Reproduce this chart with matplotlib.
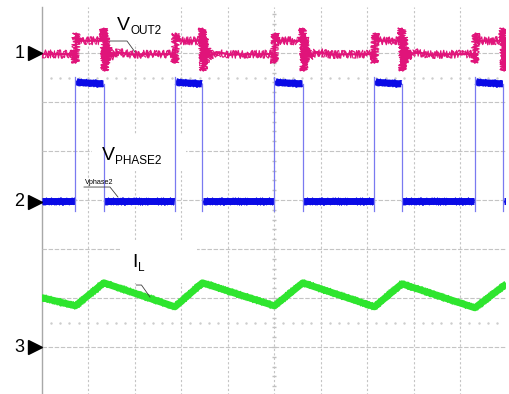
import numpy as np
import matplotlib
matplotlib.use("Agg")
import matplotlib.pyplot as plt
from matplotlib.patches import Rectangle

plt.rcParams["font.family"] = ["Liberation Sans", "DejaVu Sans"]

# scope screen: 10 divisions across, vertical in divisions (0 = centre line)
RISE_T = [0.73, 2.87, 5.01, 7.16, 9.32]     # phase node rising edges
FALL_T = [1.34, 3.46, 5.62, 7.75, 9.93]     # phase node falling edges

# channel 2 : V_PHASE2
PHASE_LOW = -0.03
PHASE_HIGH_START = 2.42
PHASE_HIGH_END = 2.37
PHASE_SPIKE = -0.22

VOUT_BASE = 2.98
VOUT_HIGH = 3.25
VOUT_RISE_DT = [-0.01, 0.0, 0.015, 0.04]
VOUT_RISE_Y = [2.98, 2.80, 3.40, 3.25]
VOUT_FALL_DT = [-0.02, 0.0, 0.02, 0.04, 0.06, 0.09, 0.13, 0.30, 0.60]
VOUT_FALL_Y = [3.25, 3.50, 2.64, 3.32, 2.80, 3.12, 2.92, 3.02, 2.97]

# channel 3 : I_L corner points
IL_T = [0.0, 0.73, 1.34, 2.87, 3.46, 5.01, 5.62, 7.16, 7.75, 9.32, 10.0]
IL_Y = [-1.99, -2.16, -1.69, -2.18, -1.69, -2.16, -1.69, -2.18, -1.71, -2.20, -1.71]

CH_NAMES = ["1", "2", "3"]
CH_LEVELS = [3.0, -0.04, -3.0]

MAGENTA = "#e0147a"
BLUE = "#0a0ae6"
BLUE_EDGE = "#7a7af0"
GREEN = "#2ee52e"
GRID = "#c4c4c4"


def noisy(ax, x, y, color, lw, jitter, z):
    """band plus jagged overlays so it reads like a scope trace"""
    if lw:
        ax.plot(x, y, color=color, lw=lw, solid_capstyle="butt", zorder=z)
    for length, w in [(1.2, 0.9), (2.5, 0.7)]:
        ln, = ax.plot(x, y, color=color, lw=w, zorder=z)
        ln.set_sketch_params(jitter, length, 4)


fig = plt.figure(figsize=(5.10, 3.94), dpi=100, facecolor="white")
ax = fig.add_axes([41.5 / 510, 0, 465 / 510, 389 / 394])
ax.set_xlim(0, 10)
ax.set_ylim(-3.959, 3.98)
ax.axis("off")

# ── graticule ───────────────────────────────────────────────────────
for gx in range(1, 10):
    ax.plot([gx, gx], [-4, 3.94], color=GRID, lw=0.8, ls=(0, (2, 2)), zorder=1)
ax.plot([10, 10], [-4, 3.94], color="#d0d0d0", lw=1.0, zorder=1)
ax.plot([0, 0], [-4, 3.94], color="#a8a8a8", lw=1.0, zorder=1, clip_on=False)
for gy in [-3, -2, -1, 0, 1, 2, 3]:
    ax.plot([0, 10], [gy, gy], color=GRID, lw=0.8, ls=(0, (4, 1.5)), zorder=1)
minor = np.arange(0.2, 10, 0.2)
for gy in [2.5, -2.5]:
    ax.plot(minor, np.full_like(minor, gy), ls="none", marker="s", ms=0.7,
            color="#cccccc", zorder=1)
ticks_y = np.arange(-3.8, 4.0, 0.2)
ax.plot(np.full_like(ticks_y, 5.0), ticks_y, ls="none", marker="_", ms=3,
        color="#c0c0c0", zorder=1)

# white label backgrounds (they hide the graticule, not the traces)
for x0, y0, x1, y1 in [(95, 44, 172, 0), (92, 170, 186, 135), (120, 283, 197, 240)]:
    ax.add_patch(Rectangle(((x0 - 41.5) / 46.5, (200 - y0) / 49),
                           (x1 - x0) / 46.5, (y0 - y1) / 49,
                           facecolor="white", edgecolor="none", zorder=2))

# ── channel 2 : phase node ──────────────────────────────────────────
low_start = [0.0] + FALL_T
low_end = RISE_T + [10.0]
for s, e in zip(low_start, low_end):
    noisy(ax, [s + 0.01, e - 0.01], [PHASE_LOW, PHASE_LOW], BLUE, 5.0, 3.5, 4)
for r, f in zip(RISE_T, FALL_T):
    noisy(ax, [r + 0.02, r + 0.08, f - 0.01],
          [PHASE_HIGH_START, PHASE_HIGH_START - 0.02, PHASE_HIGH_END], BLUE, 5.0, 3.5, 4)
    ax.plot([r, r], [PHASE_SPIKE, PHASE_HIGH_START + 0.1], color=BLUE_EDGE, lw=0.9, zorder=4)
    ax.plot([f, f], [PHASE_HIGH_END, PHASE_SPIKE], color=BLUE_EDGE, lw=0.9, zorder=4)

# ── channel 1 : output ──────────────────────────────────────────────
vx, vy = [0.0], [VOUT_BASE]
for r, f in zip(RISE_T, FALL_T):
    vx += [r + d for d in VOUT_RISE_DT]
    vy += VOUT_RISE_Y
    vx += [f + d for d in VOUT_FALL_DT]
    vy += VOUT_FALL_Y
vx.append(10.0)
vy.append(VOUT_BASE)
noisy(ax, vx, vy, MAGENTA, 1.5, 4.0, 5)

# ── channel 3 : inductor current ────────────────────────────────────
noisy(ax, IL_T, IL_Y, GREEN, 5.0, 3.5, 4)

# ── channel markers ─────────────────────────────────────────────────
for name, lvl in zip(CH_NAMES, CH_LEVELS):
    ax.plot(-0.15, lvl, marker=">", ms=10, color="black", clip_on=False, zorder=6)
    ax.text(-0.37, lvl, name, fontsize=13, ha="right", va="center", clip_on=False)


# ── annotations ─────────────────────────────────────────────────────
def sub_label(x, y, main, sub):
    t = ax.text(x, y, main, fontsize=14, ha="left", va="baseline", zorder=7)
    ax.annotate(sub, xy=(1, 0), xycoords=t, xytext=(0.3, -2.2),
                textcoords="offset points", fontsize=8.5, ha="left", va="bottom", zorder=7)


sub_label(1.626, 3.47, "V", "OUT2")
sub_label(1.30, 0.816, "V", "PHASE2")
sub_label(1.946, -1.367, "I", "L")

lead = dict(color="#404040", lw=0.6, zorder=7)
ax.plot([1.473, 1.839, 2.011], [3.245, 3.245, 3.02], **lead)
ax.plot([0.914, 1.473, 1.645], [0.265, 0.265, 0.06], **lead)
ax.plot([2.04, 2.15, 2.333], [-1.735, -1.735, -1.98], **lead)
ax.text(0.93, 0.29, "Vphase2", fontsize=5.2, ha="left", va="bottom", zorder=7)

fig.savefig("out.png", dpi=100, facecolor="white")
